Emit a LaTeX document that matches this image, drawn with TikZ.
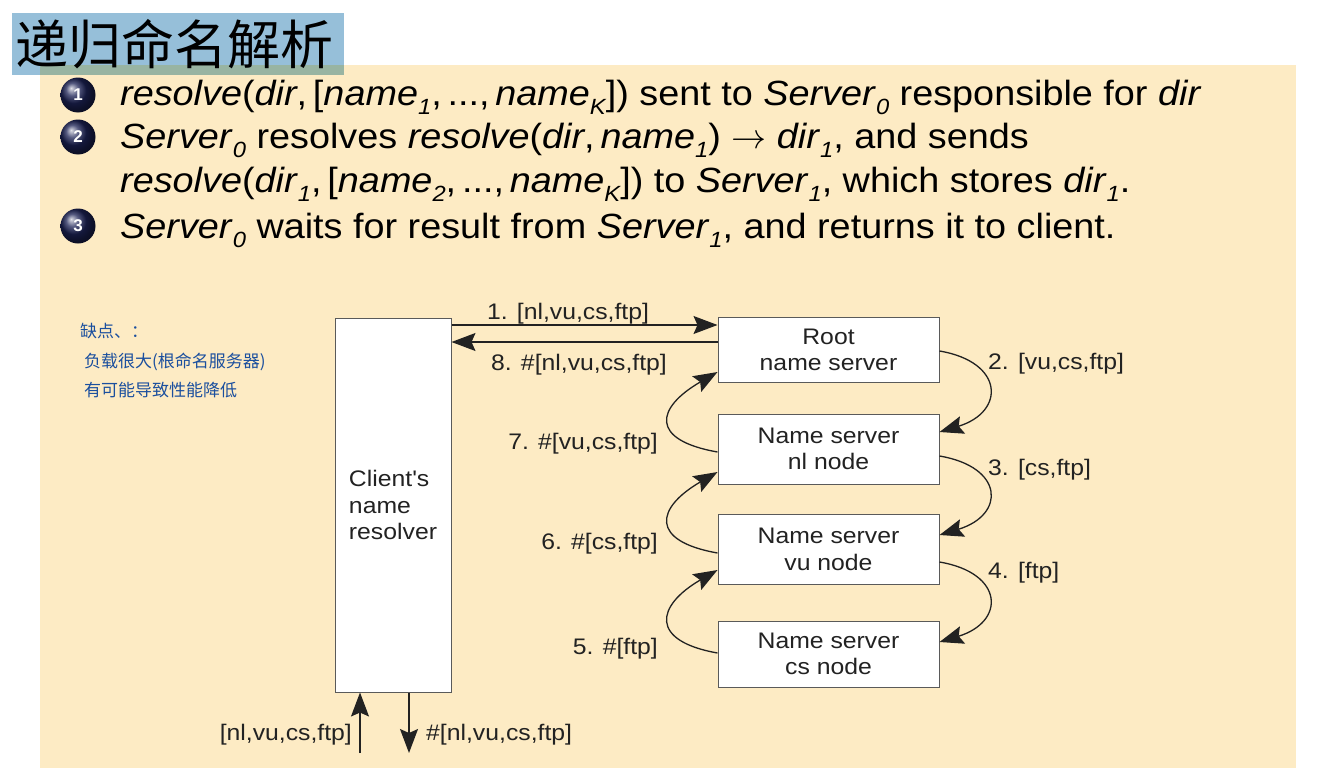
\RequirePackage{fix-cm}
\documentclass[tikz,border=0pt]{standalone}
\usepackage{fontspec}
\setmainfont{Liberation Sans}
\newfontfamily\bodyfont[FakeStretch=1.08]{Liberation Sans}
\newfontfamily\labelfont[FakeStretch=1.1]{Liberation Sans}
\newfontfamily\cjkfont{Noto Sans CJK SC}
\usetikzlibrary{arrows.meta,calc}

\definecolor{cream}{HTML}{FDEBC4}
\definecolor{titleblue}{HTML}{96BFD9}
\definecolor{overlapgreen}{HTML}{98B4A2}
\definecolor{ballnavy}{HTML}{1C2255}
\definecolor{inkblue}{HTML}{1B4F9E}
\definecolor{linegray}{HTML}{222222}
\definecolor{boxgray}{HTML}{5A5A5A}

% italic subscript used in the bullet text
\newcommand{\sbx}[1]{\raisebox{-0.28em}{\fontsize{22}{22}\selectfont\itshape #1}}

\begin{document}
\begin{tikzpicture}[x=1pt,y=-1pt,
  bodytext/.style={anchor=base west, inner sep=0pt, text=black,
    font=\bodyfont\fontsize{35}{44}\selectfont},
  bulletball/.style={circle, shading=ball, ball color=ballnavy, minimum size=35pt,
    inner sep=0pt, text=white, font=\bfseries\fontsize{17}{17}\selectfont},
  srvbox/.style={draw=boxgray, line width=1pt, fill=white, minimum width=221pt,
    align=center, inner sep=0pt, text=linegray,
    font=\labelfont\fontsize{22.5}{26.5}\selectfont},
  lbl/.style={anchor=base, inner sep=0pt, text=linegray,
    font=\labelfont\fontsize{22.5}{26.5}\selectfont},
  arr/.style={draw=linegray, line width=1.3pt,
    -{Stealth[length=24pt,width=18pt,inset=4pt]}},
  note/.style={anchor=west, inner sep=0pt, text=inkblue,
    font=\cjkfont\fontsize{17}{17}\selectfont}
]
\useasboundingbox (0,0) rectangle (1327,768);
\fill[white] (0,0) rectangle (1327,768);

% slide background and title band
\fill[cream] (40,65) rectangle (1296,768);
\fill[titleblue] (12,13) rectangle (344,75);
\fill[overlapgreen] (40,65) rectangle (344,75);
\node[anchor=west, inner sep=0pt, text=black,
  font=\cjkfont\fontsize{53}{53}\selectfont] (title) at (15,44) {递归命名解析};

% numbered steps
\node[bulletball] (b1) at (78,95) {1};
\node[bulletball] (b2) at (78,137) {2};
\node[bulletball] (b3) at (78,226) {3};

\node[bodytext] (t1) at (120,105)
  {\textit{resolve}(\textit{dir},\,[\textit{name}\sbx{1},\,...,\,\textit{name}\sbx{K}]) sent to \textit{Server}\sbx{0} responsible for \textit{dir}};
\node[bodytext] (t2) at (120,148)
  {\textit{Server}\sbx{0} resolves \textit{resolve}(\textit{dir},\,\textit{name}\sbx{1}) $\rightarrow$ \textit{dir}\sbx{1}, and sends};
\node[bodytext] (t3) at (120,192)
  {\textit{resolve}(\textit{dir}\sbx{1},\,[\textit{name}\sbx{2},\,...,\,\textit{name}\sbx{K}]) to \textit{Server}\sbx{1}, which stores \textit{dir}\sbx{1}.};
\node[bodytext] (t4) at (120,238)
  {\textit{Server}\sbx{0} waits for result from \textit{Server}\sbx{1}, and returns it to client.};

% handwritten remark
\node[note] (n1) at (80,331) {缺点、：};
\node[note] (n2) at (84,362) {负载很大(根命名服务器)};
\node[note] (n3) at (84,390) {有可能导致性能降低};

% resolver and name servers
\node[srvbox, minimum width=116pt, minimum height=374pt, align=left]
  (client) at (393,505) {Client's\\name\\resolver};
\node[srvbox, minimum height=65pt] (root) at (828.5,350) {Root\\name server};
\node[srvbox, minimum height=70pt] (nl) at (828.5,449) {Name server\\nl node};
\node[srvbox, minimum height=70pt] (vu) at (828.5,549.5) {Name server\\vu node};
\node[srvbox, minimum height=66pt] (cs) at (828.5,654) {Name server\\cs node};

% client <-> root
\draw[arr] (client.east |- 0,325) -- (root.west |- 0,325);
\draw[arr] (root.west |- 0,342) -- (client.east |- 0,342);
\node[lbl] (l1) at (568,319) {1. [nl,vu,cs,ftp]};
\node[lbl] (l8) at (579,370) {8. \#[nl,vu,cs,ftp]};

% requests passed down the chain
\draw[arr] (root.east |- 0,351) .. controls +(65,11) and +(66,-20) .. (nl.east |- 0,432);
\draw[arr] (nl.east |- 0,456) .. controls +(65,11) and +(66,-20) .. (vu.east |- 0,535);
\draw[arr] (vu.east |- 0,562) .. controls +(65,11) and +(66,-20) .. (cs.east |- 0,642);
\node[lbl, anchor=base west] (l2) at (988,369) {2. [vu,cs,ftp]};
\node[lbl, anchor=base west] (l3) at (988,475) {3. [cs,ftp]};
\node[lbl, anchor=base west] (l4) at (988,578) {4. [ftp]};

% results passed back up
\draw[arr] (nl.west |- 0,452) .. controls +(-68,-12) and +(-62,36) .. (root.west |- 0,372);
\draw[arr] (vu.west |- 0,553) .. controls +(-68,-12) and +(-62,36) .. (nl.west |- 0,472);
\draw[arr] (cs.west |- 0,653) .. controls +(-68,-12) and +(-62,36) .. (vu.west |- 0,570);
\node[lbl, anchor=base east] (l7) at (658,449) {7. \#[vu,cs,ftp]};
\node[lbl, anchor=base east] (l6) at (658,549) {6. \#[cs,ftp]};
\node[lbl, anchor=base east] (l5) at (658,654) {5. \#[ftp]};

% query in, answer out
\coordinate (qin) at (360,753);
\coordinate (qout) at (409,753);
\draw[arr] (qin) -- (client.south -| qin);
\draw[arr] (client.south -| qout) -- (qout);
\node[lbl, anchor=base east] (lin) at (352,740) {[nl,vu,cs,ftp]};
\node[lbl, anchor=base west] (lout) at (426,740) {\#[nl,vu,cs,ftp]};
\end{tikzpicture}
\end{document}
